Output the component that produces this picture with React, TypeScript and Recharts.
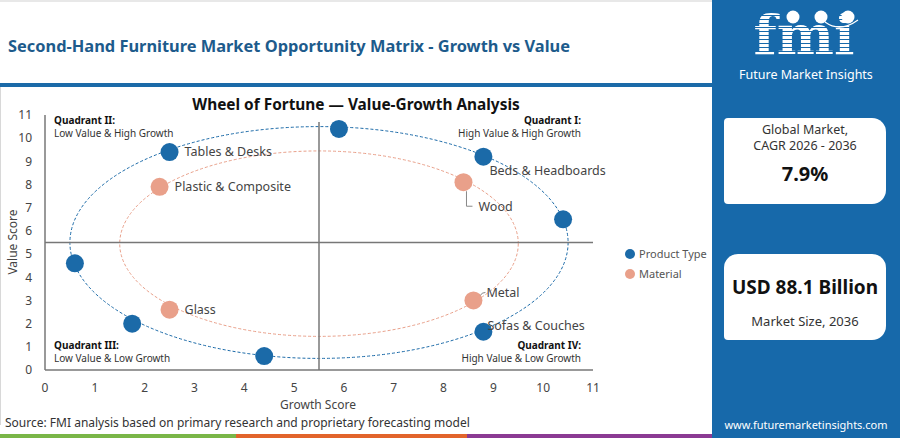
import React from "react";
import {
  ScatterChart,
  Scatter,
  XAxis,
  YAxis,
  ReferenceLine,
  ReferenceArea,
} from "recharts";

// axis ticks (both axes run 0..11)
const axisTicks = [0, 1, 2, 3, 4, 5, 6, 7, 8, 9, 10, 11];

// Product Type points (growth, value)
const productNames = ["", "Tables & Desks", "Beds & Headboards", "", "", "", "", "Sofas & Couches"];
const productGrowth = [5.9, 2.5, 8.8, 10.4, 0.6, 1.75, 4.4, 8.8];
const productValue = [10.4, 9.4, 9.2, 6.5, 4.6, 2.0, 0.6, 1.65];

// Material points
const materialNames = ["Plastic & Composite", "Wood", "Glass", "Metal"];
const materialGrowth = [2.3, 8.4, 2.5, 8.6];
const materialValue = [7.9, 8.1, 2.6, 3.0];

// dashed "wheel" rings, in data units
const ringNames = ["Product Type", "Material"];
const ringCenterGrowth = [5.5, 5.5];
const ringCenterValue = [5.5, 5.45];
const ringRadius = [5.0, 4.0];

// quadrant split
const splitGrowth = 5.5;
const splitValue = 5.5;
const splitTop = 10.7;

const BLUE = "#1b6aa8";
const SALMON = "#e9a08a";
const FONT = "'Noto Sans', 'Open Sans', sans-serif";

const productData = productNames.map((name, i) => ({
  name,
  growth: productGrowth[i],
  value: productValue[i],
}));
const materialData = materialNames.map((name, i) => ({
  name,
  growth: materialGrowth[i],
  value: materialValue[i],
}));

// label placement relative to the dot centre
const labelOffsets: Record<string, { dx: number; dy: number; leader?: string }> = {
  "Tables & Desks": { dx: 15, dy: 0 },
  "Beds & Headboards": { dx: 6, dy: 14 },
  "Sofas & Couches": { dx: 4, dy: -6 },
  "Plastic & Composite": { dx: 15, dy: 0 },
  Wood: { dx: 15, dy: 24, leader: "M3 9 L3 24 L9 24" },
  Glass: { dx: 15, dy: 0 },
  Metal: { dx: 13, dy: -8, leader: "M7 -5 Q8 -8 12 -8" },
};

function makeDot(color: string) {
  return (p: any) => {
    const name = p.payload?.name as string;
    const off = name ? labelOffsets[name] : undefined;
    return (
      <g>
        <circle cx={p.cx} cy={p.cy} r={9} fill={color} />
        {off && off.leader && (
          <path
            d={off.leader}
            transform={`translate(${p.cx},${p.cy})`}
            fill="none"
            stroke="#888"
            strokeWidth={1}
          />
        )}
        {off && (
          <text
            x={p.cx + off.dx}
            y={p.cy + off.dy}
            dy="0.35em"
            fontSize={12.5}
            fill="#444"
            fontFamily={FONT}
          >
            {name}
          </text>
        )}
      </g>
    );
  };
}

function ringShape(color: string) {
  return (p: any) => (
    <ellipse
      cx={p.x + p.width / 2}
      cy={p.y + p.height / 2}
      rx={Math.abs(p.width) / 2}
      ry={Math.abs(p.height) / 2}
      fill="none"
      stroke={color}
      strokeWidth={1}
      strokeDasharray="3 2"
    />
  );
}

const ringColors = [BLUE, SALMON];

function QuadrantNote({
  title,
  sub,
  top,
  left,
  right,
}: {
  title: string;
  sub: string;
  top: number;
  left?: number;
  right?: number;
}) {
  return (
    <div
      style={{
        position: "absolute",
        top,
        left,
        right,
        textAlign: right !== undefined ? "right" : "left",
        fontSize: 10,
        color: "#333",
        lineHeight: "13px",
      }}
    >
      <div style={{ fontWeight: 700, color: "#111" }}>{title}</div>
      <div>{sub}</div>
    </div>
  );
}

export default function App() {
  return (
    <div
      style={{
        position: "relative",
        width: 900,
        height: 438,
        background: "#fff",
        fontFamily: FONT,
        overflow: "hidden",
      }}
    >
      <style>{"body{margin:0}"}</style>
      <div style={{ position: "absolute", left: 0, top: 0, width: 712, height: 2, background: "#e8e8e8" }} />
      <div
        style={{
          position: "absolute",
          left: 8,
          top: 34,
          fontSize: 16.4,
          fontWeight: 700,
          color: "#1d5b8c",
          whiteSpace: "nowrap",
        }}
      >
        Second-Hand Furniture Market Opportunity Matrix - Growth vs Value
      </div>
      <div style={{ position: "absolute", left: 0, top: 83, width: 712, height: 4, background: BLUE }} />
      <div style={{ position: "absolute", left: 0, top: 87, width: 1, height: 338, background: "#d8d8d8" }} />

      <div
        style={{
          position: "absolute",
          left: 0,
          width: 712,
          top: 94,
          textAlign: "center",
          fontSize: 15.4,
          fontWeight: 700,
          color: "#111",
        }}
      >
        Wheel of Fortune — Value-Growth Analysis
      </div>

      <div style={{ position: "absolute", left: 0, top: 87 }}>
        <ScatterChart width={712} height={335} margin={{ top: 28, right: 119, left: 5, bottom: 22 }}>
          <XAxis
            type="number"
            dataKey="growth"
            domain={[0, 11]}
            ticks={axisTicks}
            interval={0}
            tickLine={false}
            tickMargin={7}
            axisLine={{ stroke: "#777", strokeWidth: 1.5 }}
            tick={{ fontSize: 12, fill: "#444", fontFamily: FONT }}
            height={30}
          />
          <YAxis
            type="number"
            dataKey="value"
            domain={[0, 11]}
            ticks={axisTicks}
            interval={0}
            tickLine={false}
            tickMargin={7}
            axisLine={{ stroke: "#777", strokeWidth: 1.5 }}
            tick={{ fontSize: 12, fill: "#444", fontFamily: FONT }}
            width={40}
          />
          {ringNames.map((n, i) => (
            <ReferenceArea
              key={n}
              x1={ringCenterGrowth[i] - ringRadius[i]}
              x2={ringCenterGrowth[i] + ringRadius[i]}
              y1={ringCenterValue[i] - ringRadius[i]}
              y2={ringCenterValue[i] + ringRadius[i]}
              shape={ringShape(ringColors[i])}
            />
          ))}
          <ReferenceLine
            segment={[
              { x: splitGrowth, y: 0 },
              { x: splitGrowth, y: splitTop },
            ]}
            stroke="#777"
            strokeWidth={1.5}
          />
          <ReferenceLine y={splitValue} stroke="#777" strokeWidth={1.5} />
          <Scatter
            name="Product Type"
            data={productData}
            fill={BLUE}
            shape={makeDot(BLUE)}
            isAnimationActive={false}
          />
          <Scatter
            name="Material"
            data={materialData}
            fill={SALMON}
            shape={makeDot(SALMON)}
            isAnimationActive={false}
          />
        </ScatterChart>
      </div>

      {/* axis titles */}
      <div
        style={{
          position: "absolute",
          left: 12,
          top: 242,
          transform: "translate(-50%, -50%) rotate(-90deg)",
          fontSize: 12,
          color: "#444",
          whiteSpace: "nowrap",
        }}
      >
        Value Score
      </div>
      <div
        style={{
          position: "absolute",
          left: 318,
          top: 404,
          transform: "translate(-50%, -50%)",
          fontSize: 12,
          color: "#444",
          whiteSpace: "nowrap",
        }}
      >
        Growth Score
      </div>

      <QuadrantNote title="Quadrant II:" sub="Low Value & High Growth" top={114} left={54} />
      <QuadrantNote title="Quadrant I:" sub="High Value & High Growth" top={114} right={319} />
      <QuadrantNote title="Quadrant III:" sub="Low Value & Low Growth" top={339} left={54} />
      <QuadrantNote title="Quadrant IV:" sub="High Value & Low Growth" top={339} right={319} />

      {/* legend */}
      {ringNames.map((n, i) => (
        <div
          key={n}
          style={{
            position: "absolute",
            left: 625,
            top: 246 + i * 20,
            fontSize: 11,
            color: "#555",
            display: "flex",
            alignItems: "center",
            whiteSpace: "nowrap",
          }}
        >
          <span
            style={{
              width: 10,
              height: 10,
              borderRadius: 5,
              background: ringColors[i],
              marginRight: 4,
              display: "inline-block",
            }}
          />
          {n}
        </div>
      ))}

      <div style={{ position: "absolute", left: 5, top: 414, fontSize: 12, color: "#333", whiteSpace: "nowrap" }}>
        Source: FMI analysis based on primary research and proprietary forecasting model
      </div>
      <div style={{ position: "absolute", left: 0, top: 434, width: 236, height: 4, background: "#7ab648" }} />
      <div style={{ position: "absolute", left: 236, top: 434, width: 231, height: 4, background: "#e2642b" }} />
      <div style={{ position: "absolute", left: 467, top: 434, width: 246, height: 4, background: "#8b3a93" }} />

      {/* right panel */}
      <div style={{ position: "absolute", left: 712, top: 0, width: 188, height: 438, background: "#1769aa" }}>
        <svg width={188} height={68} style={{ position: "absolute", left: 0, top: 0 }}>
          <defs>
            <pattern id="stripes" patternUnits="userSpaceOnUse" width={6} height={4}>
              <rect x={0} y={0} width={6} height={3} fill="#fff" />
            </pattern>
          </defs>
          <text
            x={92}
            y={54}
            textAnchor="middle"
            fontSize={54}
            fontWeight={700}
            fontFamily="'DejaVu Serif', serif"
            fill="url(#stripes)"
            letterSpacing={0}
          >
            fmi
          </text>
          <circle cx={81} cy={17} r={6.5} fill="#fff" />
          <circle cx={109} cy={17} r={6.5} fill="#fff" />
          <circle cx={136} cy={17} r={6.5} fill="#fff" />
          <path d="M113 22 Q128 33 146 20" fill="none" stroke="#fff" strokeWidth={1.2} />
        </svg>
        <div
          style={{
            position: "absolute",
            left: 0,
            width: 188,
            top: 67,
            textAlign: "center",
            color: "#fff",
            fontSize: 12.5,
            lineHeight: "15px",
          }}
        >
          Future Market Insights
        </div>
        <div
          style={{
            position: "absolute",
            left: 12,
            top: 118,
            width: 162,
            height: 86,
            background: "#fff",
            borderRadius: "4px 14px 14px 4px",
            textAlign: "center",
            color: "#333",
          }}
        >
          <div style={{ fontSize: 12.5, marginTop: 4, lineHeight: "16px" }}>Global Market,</div>
          <div style={{ fontSize: 12.5, lineHeight: "16px" }}>CAGR 2026 - 2036</div>
          <div style={{ fontSize: 20, fontWeight: 700, color: "#111", marginTop: 6 }}>7.9%</div>
        </div>
        <div
          style={{
            position: "absolute",
            left: 12,
            top: 254,
            width: 162,
            height: 86,
            background: "#fff",
            borderRadius: "14px 14px 14px 4px",
            textAlign: "center",
            color: "#333",
          }}
        >
          <div style={{ fontSize: 19, fontWeight: 700, color: "#111", marginTop: 20 }}>USD 88.1 Billion</div>
          <div style={{ fontSize: 13, marginTop: 12 }}>Market Size, 2036</div>
        </div>
        <div
          style={{
            position: "absolute",
            left: 0,
            width: 188,
            top: 417,
            textAlign: "center",
            color: "#fff",
            fontSize: 11,
          }}
        >
          www.futuremarketinsights.com
        </div>
      </div>
    </div>
  );
}
